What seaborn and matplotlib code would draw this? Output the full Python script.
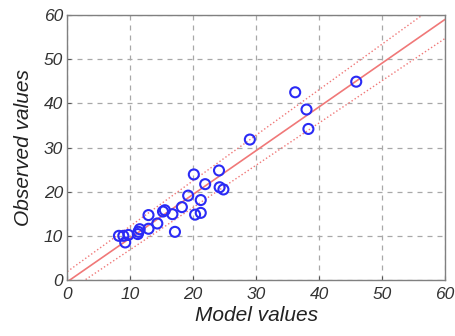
import matplotlib
matplotlib.use("Agg")
import matplotlib.pyplot as plt
import seaborn as sns
import numpy as np
import pandas as pd

model_values = [45.9, 36.2, 38.0, 38.3, 29.0, 24.1, 20.1, 21.9, 24.2, 24.8,
                19.2, 21.2, 18.2, 15.5, 15.2, 16.7, 12.9, 20.3, 21.2, 17.1,
                14.3, 12.9, 11.5, 11.3, 11.2, 9.7, 8.9, 8.2, 9.2]
observed_values = [44.9, 42.5, 38.6, 34.2, 31.8, 24.8, 23.9, 21.7, 21.0, 20.5,
                   19.1, 18.1, 16.5, 15.8, 15.5, 14.9, 14.7, 14.8, 15.2, 10.9,
                   12.8, 11.6, 11.5, 10.9, 10.4, 10.2, 10.0, 10.0, 8.5]

# fitted line and band lines (intercept, slope)
fit_line = [-0.4, 0.99]
upper_line = [1.9, 1.030]
lower_line = [-2.68, 0.956]

ticks = [0, 10, 20, 30, 40, 50, 60]

sns.set_style("white")
plt.rcParams['font.family'] = ['Liberation Sans', 'DejaVu Sans']

fig = plt.figure(figsize=(4.56, 3.36), dpi=100)
ax = fig.add_axes([67.3/456, 1 - 280/336, (445 - 67.3)/456, (280 - 15)/336])

xs = np.array([0.0, 60.0])
for params, ls in [(fit_line, '-'), (upper_line, ':'), (lower_line, ':')]:
    ys = params[0] + params[1] * xs
    ax.plot(xs, ys, color='#f07878', linestyle=ls, linewidth=1.2 if ls == '-' else 1.0, zorder=2)

df = pd.DataFrame({'model': model_values, 'observed': observed_values})
sns.scatterplot(data=df, x='model', y='observed', ax=ax, marker='o',
                facecolor='none', edgecolor='#2a2af5', linewidth=1.5, s=52, zorder=3)

ax.set_xlim(0, 60)
ax.set_ylim(0, 60)
ax.set_xticks(ticks)
ax.set_yticks(ticks)
ax.set_xticklabels([str(t) for t in ticks], fontstyle='italic', fontsize=12.5, color='#333333')
ax.set_yticklabels([str(t) for t in ticks], fontstyle='italic', fontsize=12.5, color='#333333')
ax.grid(True, linestyle=(0, (4, 4)), color='#a8a8a8', linewidth=0.9)
ax.tick_params(direction='in', length=3, width=0.8, color='#555555',
               bottom=True, left=True)
ax.tick_params(axis='x', pad=5)
ax.tick_params(axis='y', pad=3)
for s in ax.spines.values():
    s.set_color('#808080')
    s.set_linewidth(1.0)
ax.set_xlabel('Model values', fontstyle='italic', fontsize=15, color='#222222', labelpad=3)
ax.set_ylabel('Observed values', fontstyle='italic', fontsize=15, color='#222222', labelpad=8)

fig.savefig('out.png', dpi=100)
